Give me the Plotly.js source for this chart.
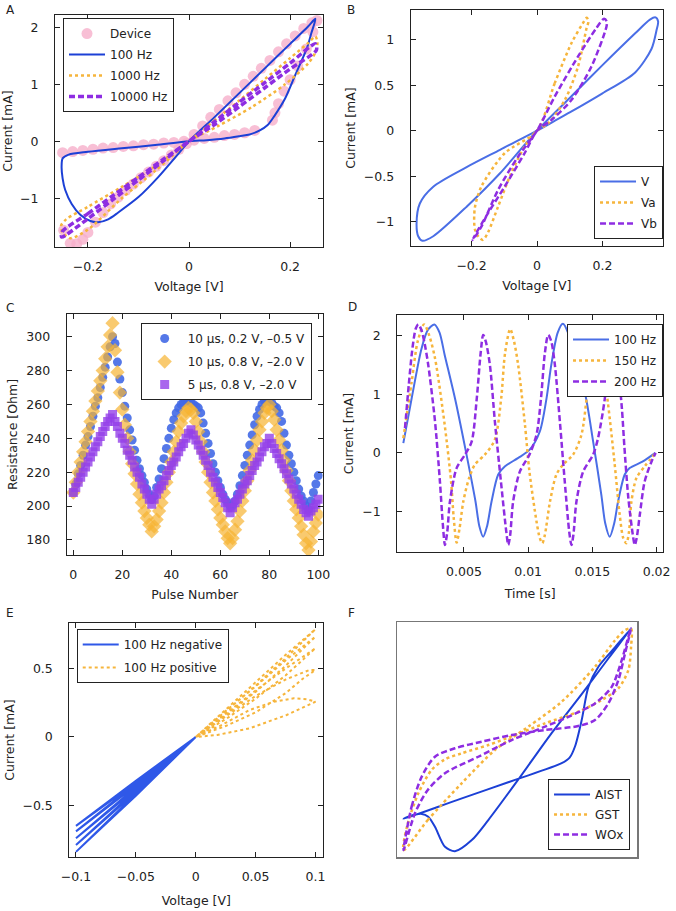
<!DOCTYPE html>
<html>
<head>
<meta charset="utf-8">
<script src="https://cdn.plot.ly/plotly-3.0.1.min.js"></script>
<style>
  body { margin:0; background:#fff; }
  #grafica { width:676px; height:911px; }
</style>
</head>
<body>
<div id="grafica"></div>
<script>
// ===== A: curvas I-V =====
const aDevV = [0.01,0.027,0.043,0.06,0.077,0.093,0.11,0.127,0.143,0.16,0.177,0.193,0.21,0.227,0.243,0.253,
  0.245,0.232,0.215,0.2,0.188,0.177,0.17,0.165,
  0.13,0.11,0.09,0.07,0.05,0.03,0.01,-0.01,-0.03,-0.05,-0.07,-0.09,-0.11,-0.13,-0.15,-0.17,-0.19,-0.21,-0.23,-0.25,
  -0.248,-0.235,-0.222,-0.21,-0.2,-0.185,-0.17,-0.155,-0.14,-0.125,-0.11,-0.095,-0.08,-0.065,-0.05,-0.035,-0.02,-0.005];
const aDevI = [0.12,0.27,0.42,0.56,0.71,0.85,1.0,1.14,1.28,1.42,1.57,1.71,1.85,1.98,2.08,2.12,
  1.92,1.62,1.32,1.08,0.88,0.66,0.5,0.37,
  0.19,0.15,0.12,0.1,0.07,0.05,0.02,0.0,-0.02,-0.03,-0.05,-0.06,-0.08,-0.09,-0.11,-0.12,-0.14,-0.16,-0.18,-0.2,
  -1.56,-1.79,-1.8,-1.72,-1.6,-1.42,-1.25,-1.1,-0.98,-0.86,-0.75,-0.64,-0.54,-0.44,-0.34,-0.24,-0.14,-0.04];

const a100V = [0,0.05,0.1,0.15,0.2,0.235,0.25,0.242,0.233,0.21,0.19,0.17,0.155,0.14,0.12,0.1,0.07,0.035,0,
  -0.067,-0.133,-0.2,-0.238,-0.25,-0.252,-0.25,-0.245,-0.232,-0.215,-0.195,-0.18,-0.16,-0.14,-0.1,-0.06,-0.025,0];
const a100I = [0,0.42,0.85,1.28,1.71,2.01,2.15,1.9,1.63,1.16,0.75,0.46,0.28,0.19,0.12,0.09,0.05,0.02,0,
  -0.065,-0.123,-0.185,-0.235,-0.3,-0.45,-0.65,-0.85,-1.1,-1.29,-1.4,-1.42,-1.37,-1.25,-0.98,-0.62,-0.26,0];

const a1kV = [0,0.05,0.1,0.15,0.2,0.235,0.25,0.254,0.25,0.236,0.19,0.124,0.058,0,
  -0.067,-0.133,-0.2,-0.243,-0.253,-0.25,-0.235,-0.2,-0.133,-0.067,0];
const a1kI = [0,0.36,0.72,1.09,1.46,1.72,1.84,1.72,1.56,1.37,1.0,0.6,0.27,0,
  -0.44,-0.8,-1.15,-1.37,-1.48,-1.6,-1.7,-1.55,-1.0,-0.52,0];

const a10kV = [-0.25,-0.2,-0.15,-0.1,-0.05,0,0.05,0.1,0.15,0.2,0.25,0.252,0.2,0.15,0.1,0.05,0,-0.05,-0.1,-0.15,-0.2,-0.252,-0.25];
const a10kI = [-1.58,-1.27,-0.95,-0.63,-0.31,0,0.34,0.69,1.03,1.37,1.71,1.6,1.27,0.94,0.61,0.29,0,-0.34,-0.68,-1.02,-1.36,-1.68,-1.58];

// ===== B: V, Va, Vb =====
const bVV = [0,0.1,0.2,0.3,0.345,0.362,0.37,0.365,0.35,0.3,0.2,0.1,0.05,0,
  -0.113,-0.215,-0.317,-0.358,-0.368,-0.363,-0.35,-0.317,-0.215,-0.113,0];
const bVI = [0,0.36,0.72,1.07,1.22,1.245,1.2,1.1,0.9,0.64,0.41,0.2,0.1,0,
  -0.21,-0.4,-0.615,-0.8,-1.02,-1.16,-1.21,-1.16,-0.835,-0.468,0];
const bVaV = [0,0.054,0.105,0.14,0.152,0.157,0.151,0.125,0.085,0.034,0,
  -0.038,-0.079,-0.119,-0.15,-0.165,-0.178,-0.19,-0.19,-0.17,-0.099,0];
const bVaI = [0,0.52,0.96,1.18,1.24,1.2,1.12,0.7,0.337,0.08,0,
  -0.176,-0.468,-0.835,-1.12,-1.2,-1.17,-1.08,-0.85,-0.615,-0.248,0];
const bVbV = [0,0.054,0.125,0.18,0.205,0.213,0.212,0.166,0.105,0.044,0,
  -0.038,-0.099,-0.15,-0.185,-0.197,-0.19,-0.17,-0.119,-0.058,0];
const bVbI = [0,0.374,0.813,1.12,1.23,1.2,1.14,0.703,0.337,0.118,0,
  -0.248,-0.615,-0.908,-1.12,-1.2,-1.17,-1.055,-0.652,-0.286,0];

// ===== C: resistencia vs pulsos =====
const pulsos = [0,1,2,3,4,5,6,7,8,9,10,11,12,13,14,15,16,17,18,19,20,21,22,23,24,25,26,27,28,29,30,
  31,32,33,34,35,36,37,38,39,40,41,42,43,44,45,46,47,48,49,50,51,52,53,54,55,56,57,58,59,60,
  61,62,63,64,65,66,67,68,69,70,71,72,73,74,75,76,77,78,79,80,81,82,83,84,85,86,87,88,89,90,
  91,92,93,94,95,96,97,98,99,100];
const cAzul = [208,213,219,224,230,236,241,247,253,259,264,270,276,282,288,294,300,
  296,285,275,267,259,252,245,239,233,227,222,218,214,210,207,204,
  206,211,216,222,228,234,240,246,251,255,258,260,261,262,262,261,
  260,259,258,255,249,243,237,231,225,220,215,211,207,204,202,200,
  200,203,207,212,218,224,230,236,242,248,253,257,260,262,262,262,
  261,259,258,255,250,243,236,230,225,220,215,210,206,203,200,198,
  203,208,213,218];
const cNaranja = [208,214,220,226,232,238,244,250,256,262,268,274,280,287,294,301,308,
  292,279,267,257,248,240,232,225,219,213,207,202,197,193,189,185,
  188,192,197,202,208,214,220,226,232,238,244,249,253,256,258,257,
  255,250,244,238,232,226,220,214,208,203,198,193,189,185,181,178,
  181,186,191,197,203,209,215,221,227,233,239,245,250,255,258,260,
  256,251,245,239,233,227,221,215,209,203,198,193,188,183,178,174,
  179,185,190,195];
const cMorado = [208,211,214,217,220,223,226,229,232,235,238,241,244,247,250,252,254,
  250,247,243,240,237,233,230,227,223,220,217,213,210,207,204,201,
  204,207,210,212,215,218,221,224,226,229,232,235,237,240,243,245,
  242,239,236,233,230,227,224,220,217,214,211,208,205,202,199,196,
  199,202,204,207,210,213,215,218,221,224,226,229,232,235,237,240,
  237,234,231,228,225,222,219,216,213,210,207,204,201,198,196,194,
  197,199,201,204];

// ===== D: corriente vs tiempo =====
const d100T = [0.00028,0.00093,0.0017,0.0022,0.0027,0.0031,0.0035,0.0043,0.0051,0.0059,0.0062,0.0065,0.0068,0.00715,
  0.00767,0.0082,0.0092,0.0101,0.0109,0.01143,0.0118,0.0123,0.0127,0.0131,0.0135,0.0144,0.01506,0.0157,
  0.016,0.01635,0.0167,0.017,0.01752,0.0179,0.0189,0.0199];
const d100I = [0.165,0.93,1.78,2.1,2.19,2.05,1.67,0.93,0.08,-0.83,-1.25,-1.43,-1.25,-0.83,
  -0.37,-0.23,-0.09,0.05,0.36,0.93,1.5,2.05,2.2,2.05,1.67,1.04,0.19,-0.72,
  -1.2,-1.43,-1.2,-0.83,-0.37,-0.26,-0.15,0.0];
const d150T = [0.00028,0.00093,0.0014,0.0019,0.0023,0.00275,0.0035,0.004,0.0042,0.00443,0.00465,0.00495,0.0054,0.00585,
  0.00663,0.0074,0.0079,0.0082,0.0086,0.0089,0.00922,0.00975,0.0101,0.01065,0.0109,0.0111,0.0113,0.0117,
  0.0122,0.01272,0.0135,0.01415,0.01455,0.0149,0.0152,0.0155,0.0158,0.0162,0.01674,0.01713,0.0174,0.01765,
  0.01785,0.01804,0.01843,0.01907,0.01993];
const d150I = [0.25,1.21,1.9,2.19,2.0,1.61,0.48,-0.49,-1.1,-1.53,-1.3,-0.83,-0.43,-0.2,
  -0.03,0.22,0.93,1.7,2.11,1.9,1.5,0.48,-0.32,-1.17,-1.45,-1.54,-1.4,-0.83,
  -0.37,-0.2,-0.03,0.31,0.93,1.7,2.1,1.9,1.5,0.87,-0.2,-1.06,-1.45,-1.54,
  -1.35,-0.83,-0.43,-0.23,0.0];
const d200T = [0.00041,0.0007,0.001,0.00125,0.00145,0.00168,0.00195,0.00222,0.00275,0.00313,0.00335,0.00352,0.0037,0.00391,
  0.00443,0.00508,0.0056,0.006,0.0063,0.0065,0.0067,0.00702,0.00741,0.00788,0.0083,0.00845,0.0086,0.00883,
  0.00935,0.0101,0.01065,0.011,0.0113,0.01156,0.0118,0.01208,0.01247,0.01285,0.0132,0.01337,0.01352,0.01376,
  0.01428,0.01506,0.01544,0.01597,0.0163,0.01648,0.01672,0.017,0.0173,0.0175,0.0178,0.01815,0.0183,0.01845,
  0.01869,0.01907,0.0196,0.01993];
const d200I = [0.42,1.15,1.8,2.12,2.19,2.1,1.85,1.5,0.53,-0.49,-1.2,-1.57,-1.35,-0.83,
  -0.26,-0.03,0.19,0.93,1.7,2.01,1.9,1.5,0.53,-0.49,-1.35,-1.57,-1.4,-0.83,
  -0.32,-0.03,0.31,0.93,1.7,2.01,1.9,1.5,0.53,-0.49,-1.35,-1.57,-1.4,-0.83,
  -0.32,-0.03,0.25,0.93,1.75,2.0,1.85,1.45,0.75,0.08,-0.77,-1.4,-1.57,-1.45,
  -1.06,-0.49,-0.15,0.0];

// ===== E: 100 Hz negativo / positivo =====
const eNegV = [0,-0.05,-0.1,-0.05,0,-0.05,-0.1,-0.05,0,-0.05,-0.1,-0.05,0,-0.05,-0.1,-0.05,0,-0.05,-0.1,-0.05,0];
const eNegI = [0,-0.32,-0.65,-0.335,0,-0.34,-0.69,-0.355,0,-0.365,-0.74,-0.38,0,-0.39,-0.79,-0.405,0,-0.415,-0.84,-0.43,0];
const ePosV = [0,0.025,0.05,0.075,0.1,0.075,0.05,0.025,0,
  0.025,0.05,0.075,0.1,0.075,0.05,0.025,0,
  0.025,0.05,0.075,0.1,0.075,0.05,0.025,0,
  0.025,0.05,0.075,0.095,0.1,0.09,0.075,0.05,0.025,0,
  0.02,0.045,0.065,0.082,0.093,0.1,0.076,0.045,0.018,0];
const ePosI = [0,0.2,0.4,0.6,0.788,0.575,0.375,0.185,0,
  0.19,0.37,0.56,0.734,0.52,0.33,0.16,0,
  0.17,0.34,0.5,0.649,0.45,0.28,0.13,0,
  0.15,0.3,0.42,0.49,0.489,0.43,0.32,0.18,0.08,0,
  0.08,0.197,0.258,0.283,0.276,0.258,0.161,0.063,0.015,0];

// ===== F: AIST, GST, WOx (normalizado) =====
const fAistX = [-1.0,-0.5,-0.02,0.39,0.46,0.507,0.566,0.625,0.713,0.85,1.0,
  0.8,0.566,0.3,-0.005,-0.255,-0.4,-0.548,-0.636,-0.724,-0.783,-0.84,-0.958,-1.0];
const fAistY = [-0.71,-0.53,-0.36,-0.21,-0.16,-0.06,0.178,0.476,0.656,0.82,1.0,
  0.73,0.41,0.058,-0.376,-0.72,-0.9,-1.0,-0.96,-0.78,-0.69,-0.665,-0.69,-0.71];
const fGstX = [-1.0,-0.787,-0.489,-0.196,0.097,0.39,0.683,0.86,0.947,1.0,
  1.0,0.976,0.888,0.742,0.536,0.244,-0.02,-0.255,-0.489,-0.636,-0.753,-0.87,-0.97,-1.0];
const fGstY = [-0.99,-0.72,-0.39,-0.091,0.118,0.342,0.656,0.895,0.985,1.0,
  0.835,0.626,0.462,0.357,0.252,0.148,0.043,-0.047,-0.121,-0.175,-0.27,-0.48,-0.78,-0.99];
const fWoxX = [-1.0,-0.929,-0.84,-0.724,-0.548,-0.313,-0.05,0.244,0.536,0.683,0.8,0.888,0.947,1.0,
  0.976,0.918,0.83,0.683,0.449,0.244,-0.05,-0.343,-0.636,-0.787,-0.9,-1.0];
const fWoxY = [-0.99,-0.6,-0.33,-0.152,-0.076,-0.017,0.043,0.088,0.124,0.178,0.327,0.536,0.776,1.0,
  0.925,0.716,0.476,0.327,0.207,0.118,-0.002,-0.152,-0.3,-0.45,-0.66,-0.99];

// colores
const azulOscuro = '#1c40d6';
const azul = '#4a6ee6';
const naranja = '#f6b53c';
const morado = '#8e2de2';
const rosa = 'rgba(246,175,202,0.8)';
const guion = '6px,3px';

function linea(x, y, nombre, ejes, leyenda, color, estilo, ancho, forma){
  return {
    x: x, y: y, name: nombre, type: 'scatter', mode: 'lines',
    xaxis: ejes[0], yaxis: ejes[1], legend: leyenda, legendgroup: leyenda + nombre,
    line: {color: color, dash: estilo, width: ancho, shape: forma || 'spline', smoothing: 0.8}
  };
}

let datos = [

  // A
  {x: aDevV, y: aDevI, name: 'Device', type: 'scatter', mode: 'markers',
   xaxis: 'x', yaxis: 'y', legend: 'legend', legendgroup: 'aDev',
   marker: {color: rosa, size: 11}},
  linea(a100V, a100I, '100 Hz', ['x','y'], 'legend', azulOscuro, 'solid', 2),
  linea(a1kV, a1kI, '1000 Hz', ['x','y'], 'legend', naranja, 'dot', 2.5),
  linea(a10kV, a10kI, '10000 Hz', ['x','y'], 'legend', morado, guion, 3.5),

  // B
  linea(bVV, bVI, 'V', ['x2','y2'], 'legend2', azul, 'solid', 2),
  linea(bVaV, bVaI, 'Va', ['x2','y2'], 'legend2', naranja, 'dot', 2.5),
  linea(bVbV, bVbI, 'Vb', ['x2','y2'], 'legend2', morado, guion, 2.5),

  // C
  {x: pulsos, y: cAzul, name: '10 µs, 0.2 V, –0.5 V', type: 'scatter', mode: 'markers',
   xaxis: 'x3', yaxis: 'y3', legend: 'legend3', legendgroup: 'c1',
   marker: {symbol: 'circle', size: 9, color: 'rgba(66,105,230,0.9)'}},
  {x: pulsos, y: cNaranja, name: '10 µs, 0.8 V, –2.0 V', type: 'scatter', mode: 'markers',
   xaxis: 'x3', yaxis: 'y3', legend: 'legend3', legendgroup: 'c2',
   marker: {symbol: 'diamond', size: 11, color: 'rgba(246,180,50,0.7)'}},
  {x: pulsos, y: cMorado, name: '5 µs, 0.8 V, –2.0 V', type: 'scatter', mode: 'markers',
   xaxis: 'x3', yaxis: 'y3', legend: 'legend3', legendgroup: 'c3',
   marker: {symbol: 'square', size: 9, color: 'rgba(148,64,232,0.8)'}},

  // D
  linea(d100T, d100I, '100 Hz', ['x4','y4'], 'legend4', azul, 'solid', 2),
  linea(d150T, d150I, '150 Hz', ['x4','y4'], 'legend4', naranja, 'dot', 2.5),
  linea(d200T, d200I, '200 Hz', ['x4','y4'], 'legend4', morado, guion, 2.5),

  // E
  linea(eNegV, eNegI, '100 Hz negative', ['x5','y5'], 'legend5', '#2f58e8', 'solid', 2, 'linear'),
  linea(ePosV, ePosI, '100 Hz positive', ['x5','y5'], 'legend5', naranja, 'dot', 2, 'linear'),

  // F
  linea(fAistX, fAistY, 'AIST', ['x6','y6'], 'legend6', azulOscuro, 'solid', 2),
  linea(fGstX, fGstY, 'GST', ['x6','y6'], 'legend6', naranja, 'dot', 2.5),
  linea(fWoxX, fWoxY, 'WOx', ['x6','y6'], 'legend6', morado, guion, 2.5)
];

const tam = 12.5;

function eje(dominio, ancla, rango, extra){
  return Object.assign({
    domain: dominio, anchor: ancla, range: rango,
    showline: true, linecolor: '#222', linewidth: 1, mirror: 'ticks',
    ticks: 'inside', ticklen: 5, tickcolor: '#222', tickwidth: 1,
    showgrid: false, zeroline: false, fixedrange: true,
    tickfont: {size: tam, color: '#222'}
  }, extra);
}

function ejeX(dominio, ancla, rango, extra){
  return eje(dominio, ancla, rango, Object.assign({ticklabelstandoff: 8}, extra));
}

function ejeY(dominio, ancla, rango, extra){
  return eje(dominio, ancla, rango, Object.assign({ticklabelstandoff: 13}, extra));
}

function titulo(texto, sep){
  return {text: texto, font: {size: tam, color: '#222'}, standoff: sep};
}

function leyenda(x, y, xa, ya, gap){
  return {
    x: x, y: y, xanchor: xa, yanchor: ya, xref: 'paper', yref: 'paper',
    bgcolor: 'white', bordercolor: '#222', borderwidth: 1,
    font: {size: 12, color: '#222'}, traceorder: 'grouped', tracegroupgap: gap,
    itemwidth: 36
  };
}

function letra(t, x, y){
  return {text: t, xref: 'paper', yref: 'paper', x: x/676, y: 1 - y/911,
    xanchor: 'left', yanchor: 'middle', showarrow: false,
    font: {size: 12, color: '#222'}};
}

let layout = {

  width: 676,
  height: 911,
  margin: {l: 0, r: 0, t: 0, b: 0},
  paper_bgcolor: 'white',
  plot_bgcolor: 'white',
  font: {family: 'DejaVu Sans, sans-serif', size: 12, color: '#222'},

  xaxis: ejeX([0.0814, 0.4778], 'y', [-0.265, 0.265],
    {tickvals: [-0.2, 0, 0.2], title: titulo('Voltage [V]', 9)}),
  yaxis: ejeY([0.7289, 0.9835], 'x', [-1.855, 2.216],
    {tickvals: [-1, 0, 1, 2], title: titulo('Current [mA]', 5)}),

  xaxis2: ejeX([0.6075, 0.9808], 'y2', [-0.386, 0.385],
    {tickvals: [-0.2, 0, 0.2], title: titulo('Voltage [V]', 9)}),
  yaxis2: ejeY([0.7300, 0.9890], 'x2', [-1.267, 1.326],
    {tickvals: [-1, -0.5, 0, 0.5, 1], title: titulo('Current [mA]', 5)}),

  xaxis3: ejeX([0.0987, 0.4774], 'y3', [-2.7, 101.8],
    {tickvals: [0, 20, 40, 60, 80, 100], title: titulo('Pulse Number', 9)}),
  yaxis3: ejeY([0.3908, 0.6553], 'x3', [171.1, 313.4],
    {tickvals: [180, 200, 220, 240, 260, 280, 300], title: titulo('Resistance [Ohm]', 5)}),

  xaxis4: ejeX([0.5877, 0.9808], 'y4', [-0.00019, 0.0205],
    {tickvals: [0.005, 0.01, 0.015, 0.02], ticktext: ['0.005', '0.01', '0.015', '0.02'],
     title: titulo('Time [s]', 11)}),
  yaxis4: ejeY([0.3941, 0.6542], 'x4', [-1.69, 2.35],
    {tickvals: [-1, 0, 1, 2], title: titulo('Current [mA]', 5)}),

  xaxis5: ejeX([0.1025, 0.4783], 'y5', [-0.1056, 0.1066],
    {tickvals: [-0.1, -0.05, 0, 0.05, 0.1], title: titulo('Voltage [V]', 12)}),
  yaxis5: ejeY([0.0589, 0.3165], 'x5', [-0.88, 0.836],
    {tickvals: [-0.5, 0, 0.5], title: titulo('Current [mA]', 5)}),

  xaxis6: {domain: [0.5877, 0.9428], anchor: 'y6', range: [-1.055, 1.055],
    showline: true, linecolor: '#777', linewidth: 1.5, mirror: true,
    ticks: '', showticklabels: false, showgrid: false, zeroline: false, fixedrange: true},
  yaxis6: {domain: [0.0589, 0.3169], anchor: 'x6', range: [-1.055, 1.055],
    showline: true, linecolor: '#777', linewidth: 1.5, mirror: true,
    ticks: '', showticklabels: false, showgrid: false, zeroline: false, fixedrange: true},

  legend: leyenda(0.0932, 0.9802, 'left', 'top', 2),
  legend2: leyenda(0.9808, 0.7377, 'right', 'bottom', 2),
  legend3: leyenda(0.2081, 0.6454, 'left', 'top', 4),
  legend4: leyenda(0.9808, 0.6443, 'right', 'top', 2),
  legend5: leyenda(0.1135, 0.3095, 'left', 'top', 4),
  legend6: leyenda(0.932, 0.067, 'right', 'bottom', 1),

  annotations: [
    letra('A', 4, 10),
    letra('B', 345, 10),
    letra('C', 4, 308),
    letra('D', 346, 307),
    letra('E', 4, 613),
    letra('F', 346, 613)
  ]
};

Plotly.newPlot('grafica', datos, layout, {displayModeBar: false, staticPlot: true});
</script>
</body>
</html>
